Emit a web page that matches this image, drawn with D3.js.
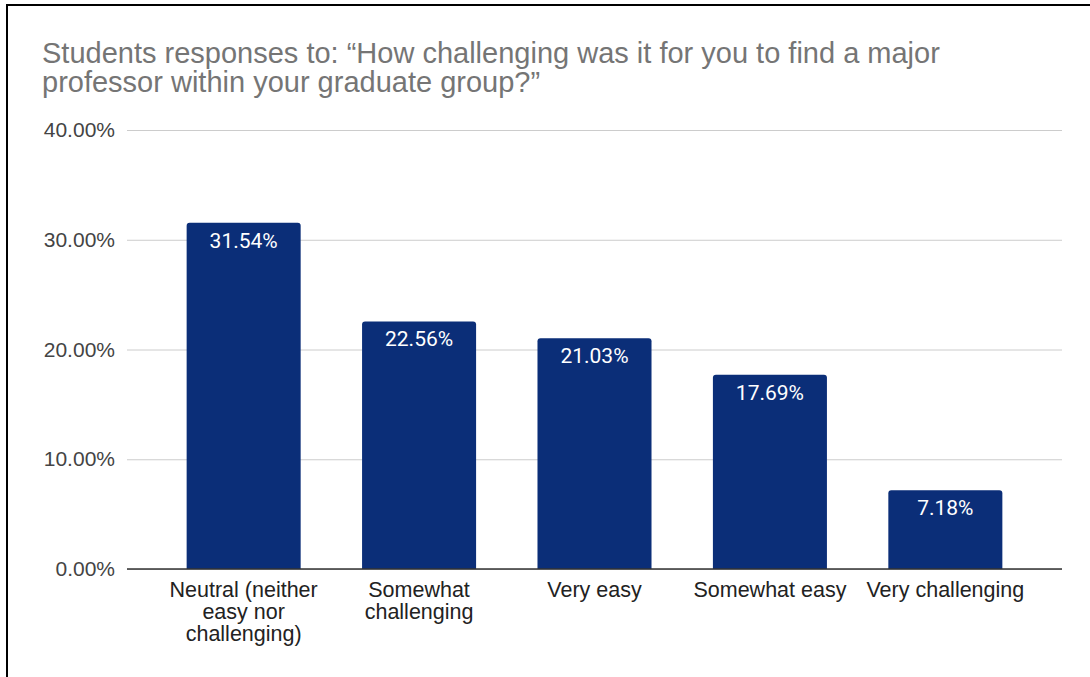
<!DOCTYPE html>
<html>
<head>
<meta charset="utf-8">
<script src="https://cdn.jsdelivr.net/npm/d3@7"></script>
<style>
  html, body { margin: 0; padding: 0; background: #fff; }
  svg { display: block; }
</style>
</head>
<body>
<svg id="chart" width="1090" height="677"></svg>
<script>
// Survey answers and their share of respondents (%)
const categories = [
  "Neutral (neither easy nor challenging)",
  "Somewhat challenging",
  "Very easy",
  "Somewhat easy",
  "Very challenging"
];
const categoryLines = [
  ["Neutral (neither", "easy nor", "challenging)"],
  ["Somewhat", "challenging"],
  ["Very easy"],
  ["Somewhat easy"],
  ["Very challenging"]
];
const values = [31.54, 22.56, 21.03, 17.69, 7.18];
const yTicks = [0, 10, 20, 30, 40];
const titleLines = [
  "Students responses to: \u201cHow challenging was it for you to find a major",
  "professor within your graduate group?\u201d"
];

const svg = d3.select("#chart");
const W = 1090, H = 677;
const sans = "Arial, 'Liberation Sans', sans-serif";

// frame lines on the top and left
svg.append("line").attr("x1", 6).attr("x2", W).attr("y1", 5).attr("y2", 5)
  .attr("stroke", "#000").attr("stroke-width", 2);
svg.append("line").attr("x1", 7).attr("x2", 7).attr("y1", 4).attr("y2", H)
  .attr("stroke", "#000").attr("stroke-width", 2);

const plot = { left: 127, right: 1062, top: 130, bottom: 569 };

const x = d3.scaleBand()
  .domain(categories)
  .range([plot.left, plot.right])
  .paddingInner(0.35)
  .paddingOuter(0.34);

const y = d3.scaleLinear()
  .domain([0, 40])
  .range([plot.bottom, plot.top]);

// title
svg.append("g").selectAll("text")
  .data(titleLines).join("text")
  .attr("x", 42)
  .attr("y", (d, i) => 63 + i * 29)
  .attr("font-family", sans)
  .attr("font-size", 29)
  .attr("fill", "#757575")
  .text(d => d);

// horizontal gridlines and y labels
const yAxis = d3.axisLeft(y)
  .tickValues(yTicks)
  .tickSize(-(plot.right - plot.left))
  .tickPadding(12)
  .tickFormat(d => d3.format(".2f")(d) + "%");

const gy = svg.append("g")
  .attr("transform", `translate(${plot.left},0)`)
  .call(yAxis);
gy.select(".domain").remove();
gy.selectAll(".tick line").attr("stroke", "#cccccc").attr("stroke-width", 1);
gy.selectAll(".tick text")
  .attr("font-family", sans)
  .attr("font-size", 21)
  .attr("fill", "#444");

// bars with slightly rounded tops
const r = 3;
svg.append("g").selectAll("path")
  .data(values).join("path")
  .attr("fill", "#0b2e78")
  .attr("d", (d, i) => {
    const x0 = x(categories[i]), w = x.bandwidth();
    const yt = y(d), yb = y(0);
    return `M${x0},${yb}V${yt + r}Q${x0},${yt} ${x0 + r},${yt}` +
      `H${x0 + w - r}Q${x0 + w},${yt} ${x0 + w},${yt + r}V${yb}Z`;
  });

// value labels inside bar tops
svg.append("g").selectAll("text")
  .data(values).join("text")
  .attr("x", (d, i) => x(categories[i]) + x.bandwidth() / 2)
  .attr("y", d => y(d) + 25)
  .attr("text-anchor", "middle")
  .attr("font-family", "Roboto, sans-serif")
  .attr("font-size", 21)
  .attr("fill", "#fff")
  .text(d => d3.format(".2f")(d) + "%");

// baseline
svg.append("line")
  .attr("x1", plot.left).attr("x2", plot.right)
  .attr("y1", y(0)).attr("y2", y(0))
  .attr("stroke", "#333").attr("stroke-width", 1.5);

// category labels
const gx = svg.append("g");
categories.forEach((c, i) => {
  const cx = x(c) + x.bandwidth() / 2;
  const t = gx.append("text")
    .attr("x", cx)
    .attr("y", 597)
    .attr("text-anchor", "middle")
    .attr("font-family", sans)
    .attr("font-size", 21.5)
    .attr("fill", "#222");
  categoryLines[i].forEach((line, j) => {
    t.append("tspan")
      .attr("x", cx)
      .attr("dy", j === 0 ? 0 : 22)
      .text(line);
  });
});
</script>
</body>
</html>
